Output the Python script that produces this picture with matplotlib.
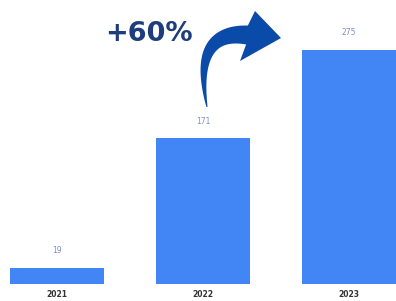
import matplotlib
matplotlib.use("Agg")
import matplotlib.pyplot as plt
import numpy as np
from matplotlib.patches import Polygon

years = ["2021", "2022", "2023"]
values = [19, 171, 275]
growth_label = "+60%"

bar_color = "#4285f4"
W, H = 396, 301
fig = plt.figure(figsize=(W / 100, H / 100), dpi=100)
ax = fig.add_axes([0, 17/301, 1, 1 - 17/301])
x = list(range(len(years)))
ax.bar(x, values, width=0.644, color=bar_color)
ax.set_xlim(-0.39, 2.32)
ax.set_ylim(0, 333.7)
for xi, v in zip(x, values):
    ax.annotate(str(v), (xi, v), xytext=(0, 12.5), textcoords="offset points",
                ha="center", va="center", fontsize=5.5, color="#7d90c4")
ax.set_xticks(x)
ax.set_xticklabels(years, fontsize=5.5, fontweight="bold", color="#333333")
ax.tick_params(axis="x", length=0, pad=4)
ax.set_yticks([])
for s in ax.spines.values():
    s.set_visible(False)

fig.text(105/W, 1 - 34/H, growth_label, fontsize=19.5, fontweight="bold",
         color="#1d3d7c", ha="left", va="center")

# curved tapered arrow (decoration) in pixel coordinates (y down)
P0 = np.array([207.0, 107.0])
P1 = np.array([192.0, 30.0])
P2 = np.array([247.0, 35.0])
t = np.linspace(0, 1, 60)
B = ((1 - t)**2)[:, None] * P0 + (2 * (1 - t) * t)[:, None] * P1 + (t**2)[:, None] * P2
D = (2 * (1 - t))[:, None] * (P1 - P0) + (2 * t)[:, None] * (P2 - P1)
D /= np.linalg.norm(D, axis=1)[:, None]
N = np.stack([-D[:, 1], D[:, 0]], axis=1)
w = 1.0 + 18.0 * t**0.85
inner = B + N * (w / 2)[:, None]
outer = B - N * (w / 2)[:, None]
head = np.array([[240.0, 61.0], [281.0, 38.0], [255.0, 11.0]])
pts = np.vstack([inner, head, outer[::-1]])
pts_fig = np.column_stack([pts[:, 0] / W, 1 - pts[:, 1] / H])
fig.add_artist(Polygon(pts_fig, closed=True, transform=fig.transFigure,
                       facecolor="#0a4aa8", edgecolor="none"))

fig.savefig("out.png", dpi=100)
